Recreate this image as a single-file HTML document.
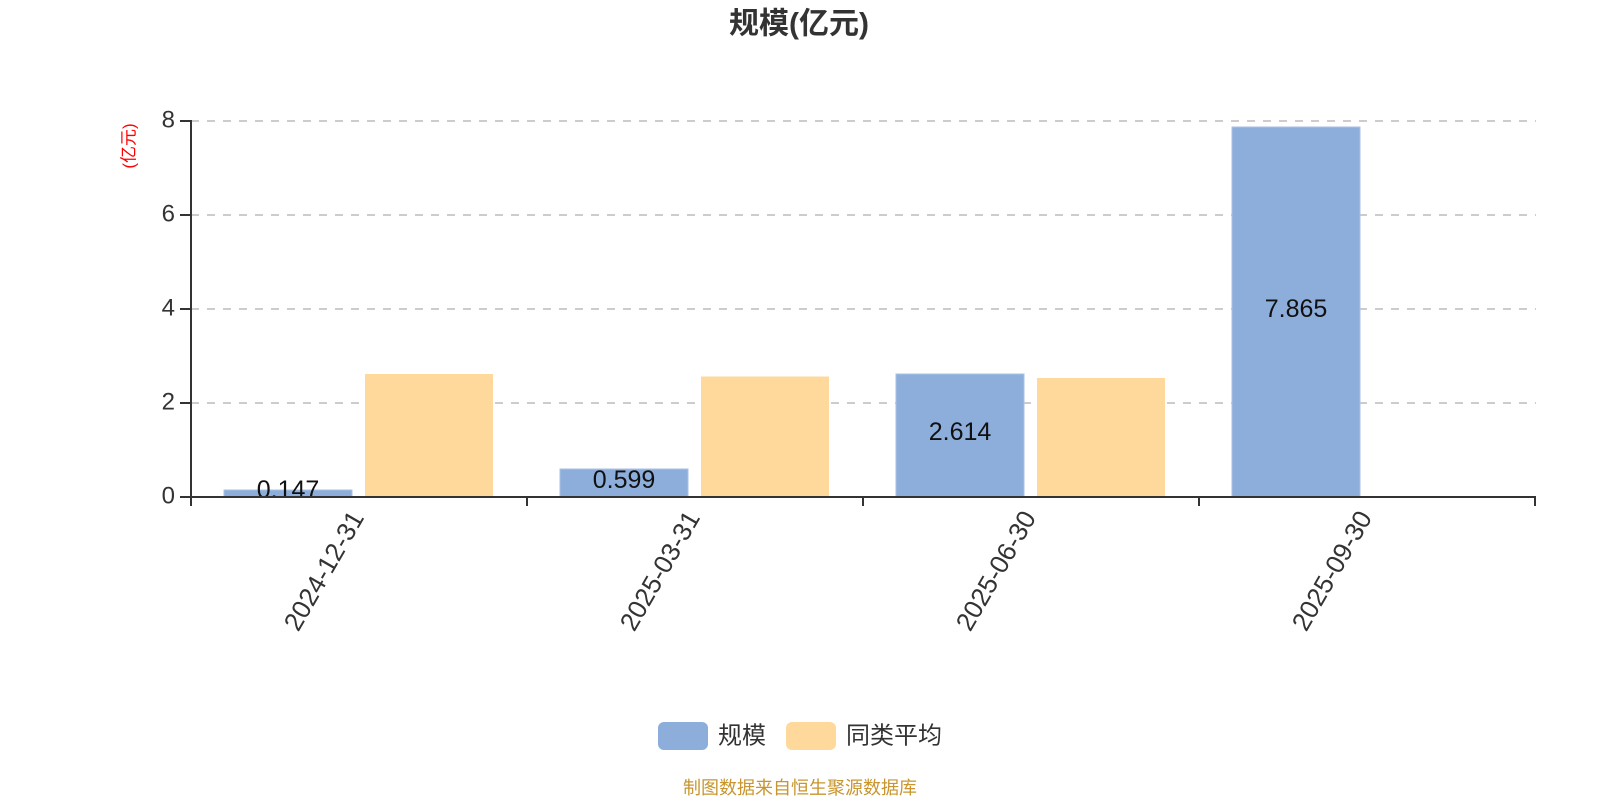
<!DOCTYPE html>
<html>
<head>
<meta charset="utf-8">
<style>
html,body{margin:0;padding:0;background:#fff;}
svg{display:block;}
text{font-family:"Liberation Sans","Noto Sans CJK SC",sans-serif;}
</style>
</head>
<body>
<svg width="1600" height="800" viewBox="0 0 1600 800" xmlns="http://www.w3.org/2000/svg">
  <rect width="1600" height="800" fill="#fff"/>
  <!-- title -->
  <text x="799" y="24" text-anchor="middle" dominant-baseline="central" font-size="30" font-weight="bold" fill="#333">规模(亿元)</text>
  <!-- y unit -->
  <text transform="translate(129,146) rotate(-90)" text-anchor="middle" dominant-baseline="central" font-size="17" fill="#ff0000">(亿元)</text>

  <!-- gridlines -->
  <g stroke="#cccccc" stroke-width="2" stroke-dasharray="8,8">
    <line x1="191" y1="121" x2="1536" y2="121"/>
    <line x1="191" y1="215" x2="1536" y2="215"/>
    <line x1="191" y1="309" x2="1536" y2="309"/>
    <line x1="191" y1="403" x2="1536" y2="403"/>
  </g>

  <!-- bars -->
  <g>
    <rect x="224" y="490" width="128" height="7" fill="#8dadda" stroke="#a9c2e6" stroke-width="1"/>
    <rect x="365" y="374" width="128" height="123" fill="#fed99b"/>
    <rect x="560" y="469" width="128" height="28" fill="#8dadda" stroke="#a9c2e6" stroke-width="1"/>
    <rect x="701" y="376.5" width="128" height="120.5" fill="#fed99b"/>
    <rect x="896" y="374" width="128" height="123" fill="#8dadda" stroke="#a9c2e6" stroke-width="1"/>
    <rect x="1037" y="378" width="128" height="119" fill="#fed99b"/>
    <rect x="1232" y="127" width="128" height="370" fill="#8dadda" stroke="#a9c2e6" stroke-width="1"/>
  </g>

  <!-- value labels -->
  <g font-size="25" fill="#111" text-anchor="middle" dominant-baseline="central">
    <text x="288" y="490">0.147</text>
    <text x="624" y="480">0.599</text>
    <text x="960" y="432">2.614</text>
    <text x="1296" y="309">7.865</text>
  </g>

  <!-- axes -->
  <g stroke="#333" stroke-width="2">
    <line x1="191" y1="120" x2="191" y2="498"/>
    <line x1="190" y1="497" x2="1536" y2="497"/>
    <!-- y ticks -->
    <line x1="180" y1="121" x2="191" y2="121"/>
    <line x1="180" y1="215" x2="191" y2="215"/>
    <line x1="180" y1="309" x2="191" y2="309"/>
    <line x1="180" y1="403" x2="191" y2="403"/>
    <line x1="180" y1="497" x2="191" y2="497"/>
    <!-- x ticks -->
    <line x1="191" y1="497" x2="191" y2="506"/>
    <line x1="527" y1="497" x2="527" y2="506"/>
    <line x1="863" y1="497" x2="863" y2="506"/>
    <line x1="1199" y1="497" x2="1199" y2="506"/>
    <line x1="1535" y1="497" x2="1535" y2="506"/>
  </g>

  <!-- y labels -->
  <g font-size="24" fill="#333" text-anchor="end" dominant-baseline="central">
    <text x="175" y="120">8</text>
    <text x="175" y="214">6</text>
    <text x="175" y="308">4</text>
    <text x="175" y="402">2</text>
    <text x="175" y="496">0</text>
  </g>

  <!-- x labels -->
  <g font-size="26" fill="#333" text-anchor="end" dominant-baseline="central">
    <text transform="translate(357,513) rotate(-60)">2024-12-31</text>
    <text transform="translate(693,513) rotate(-60)">2025-03-31</text>
    <text transform="translate(1029,513) rotate(-60)">2025-06-30</text>
    <text transform="translate(1365,513) rotate(-60)">2025-09-30</text>
  </g>

  <!-- legend -->
  <rect x="658" y="722" width="50" height="28" rx="6" ry="6" fill="#8dadda"/>
  <text x="718" y="736" font-size="24" fill="#333" dominant-baseline="central">规模</text>
  <rect x="786" y="722" width="50" height="28" rx="6" ry="6" fill="#fed99b"/>
  <text x="846" y="736" font-size="24" fill="#333" dominant-baseline="central">同类平均</text>

  <!-- footer -->
  <text x="800" y="788" text-anchor="middle" dominant-baseline="central" font-size="18" fill="#c8952e">制图数据来自恒生聚源数据库</text>
</svg>
</body>
</html>
